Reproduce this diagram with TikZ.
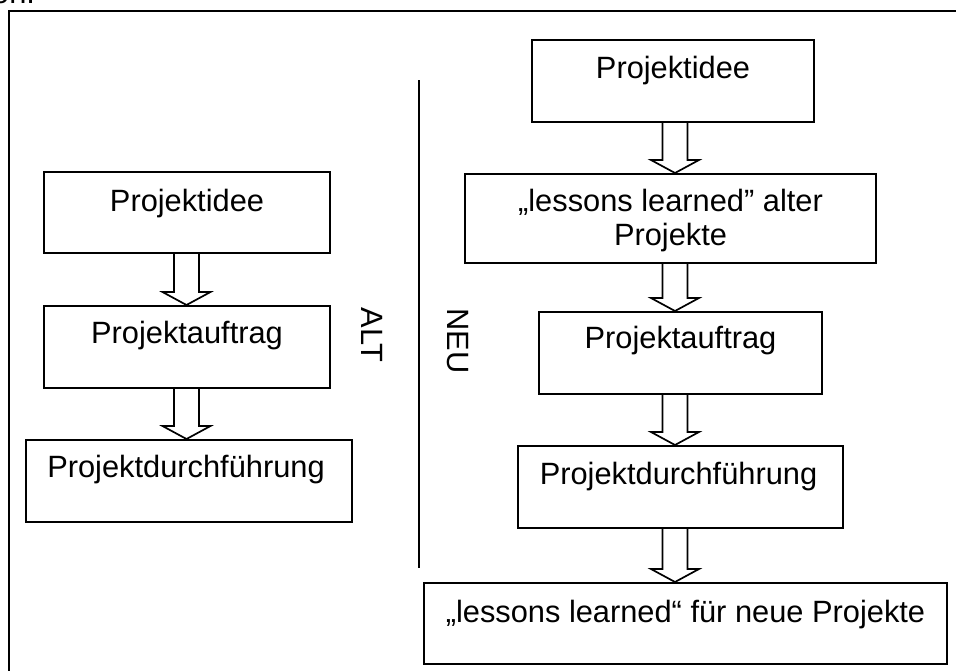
\documentclass[tikz,border=0pt]{standalone}
\usepackage{fontspec}
\setmainfont{Liberation Sans}
\usetikzlibrary{calc}
\tikzset{
  boxnode/.style={draw=black, line width=2pt, rectangle, inner sep=0pt, anchor=north west},
  lbl/.style={anchor=base, inner sep=0pt, font=\fontsize{30.8}{34}\selectfont},
  vlbl/.style={inner sep=0pt, rotate=-90, font=\fontsize{30.8}{34}\selectfont},
  blk/.style={draw=black, line width=1.7pt, line join=miter},
  frame/.style={draw=black, line width=2.2pt},
  divider/.style={draw=black, line width=1.7pt}
}
\newcommand{\blkarrow}[3]{%
  \draw[blk] let \p1=(#1.south), \p2=(#2.north) in
    ({#3pt-12.5pt},\y1) -- ({#3pt-12.5pt},{\y2+13pt}) -- ({#3pt-24pt},{\y2+13pt})
    -- ({#3pt},\y2) -- ({#3pt+24pt},{\y2+13pt}) -- ({#3pt+12.5pt},{\y2+13pt}) -- ({#3pt+12.5pt},\y1);}
\begin{document}
\begin{tikzpicture}[x=1pt,y=-1pt]
\useasboundingbox (0,0) rectangle (956,670);
\clip (0,0) rectangle (956,670);
\fill[white] (0,0) rectangle (956,670);
% cropped text fragment from above
\node[lbl, anchor=base west] (frag) at (-8,3) {on.};
% outer frame (continues beyond the right and bottom edges)
\draw[frame] (9,11) rectangle (1000,720);
% left column (ALT)
\node[boxnode, minimum width=286pt, minimum height=81pt] (l1) at (43,171) {};
\node[boxnode, minimum width=286pt, minimum height=82pt] (l2) at (43,305) {};
\node[boxnode, minimum width=326pt, minimum height=82pt] (l3) at (25,439) {};
\node[lbl] (l1t) at ($(l1.north)+(0,40)$) {Projektidee};
\node[lbl] (l2t) at ($(l2.north)+(0,38)$) {Projektauftrag};
\node[lbl] (l3t) at ($(l3.north)+(-3,38)$) {Projektdurchführung};
\blkarrow{l1}{l2}{186.5}
\blkarrow{l2}{l3}{186.5}
% labels and divider
\node[vlbl] (alt) at (372.5,335) {ALT};
\node[vlbl] (neu) at (458,341) {NEU};
\coordinate (d1) at (419,80);
\coordinate (d2) at (419,568);
\draw[divider] (d1) -- (d2);
% right column (NEU)
\node[boxnode, minimum width=282pt, minimum height=82pt] (r1) at (531,39) {};
\node[boxnode, minimum width=411pt, minimum height=89pt] (r2) at (464,173) {};
\node[boxnode, minimum width=283pt, minimum height=82pt] (r3) at (538,311) {};
\node[boxnode, minimum width=325pt, minimum height=82pt] (r4) at (517,445) {};
\node[boxnode, minimum width=523pt, minimum height=81pt] (r5) at (423,582) {};
\node[lbl] (r1t) at ($(r1.north)+(0,39)$) {Projektidee};
\node[lbl, anchor=north, align=center] (r2t) at ($(r2.north)+(0,16)$) {„lessons learned” alter\\Projekte};
\node[lbl] (r3t) at ($(r3.north)+(0,37)$) {Projektauftrag};
\node[lbl] (r4t) at ($(r4.north)+(-2,39)$) {Projektdurchführung};
\node[lbl] (r5t) at ($(r5.north)+(0,40)$) {„lessons learned“ für neue Projekte};
\blkarrow{r1}{r2}{675}
\blkarrow{r2}{r3}{675}
\blkarrow{r3}{r4}{675}
\blkarrow{r4}{r5}{675}
\end{tikzpicture}
\end{document}
